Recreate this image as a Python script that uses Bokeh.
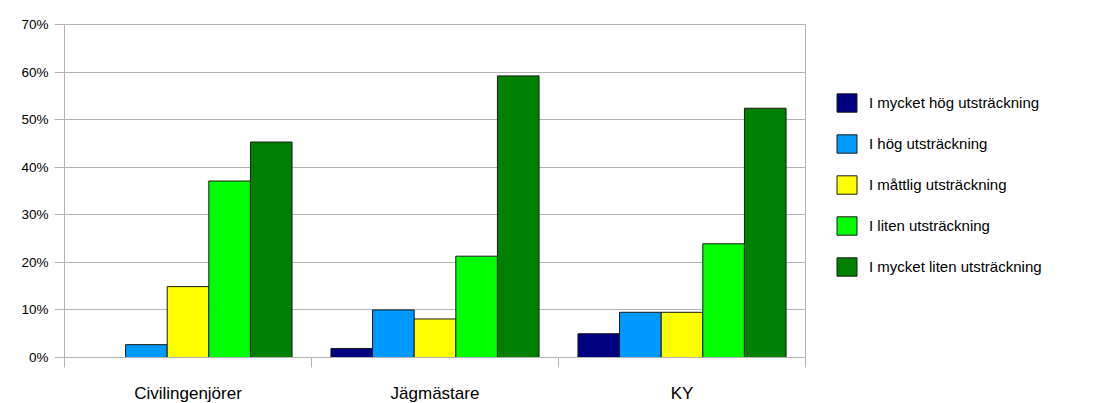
from bokeh.plotting import figure
from bokeh.models import (ColumnDataSource, FixedTicker, NumeralTickFormatter,
                          Range1d, Legend, LegendItem)
from bokeh.embed import file_html
from bokeh.resources import INLINE

categories = ["Civilingenjörer", "Jägmästare", "KY"]
series = ["I mycket hög utsträckning", "I hög utsträckning", "I måttlig utsträckning",
          "I liten utsträckning", "I mycket liten utsträckning"]
colors = ["#000080", "#0099ff", "#ffff00", "#00ff00", "#008000"]
mycket_hog = [0.0, 0.019, 0.050]
hog = [0.027, 0.100, 0.095]
mattlig = [0.149, 0.081, 0.095]
liten = [0.371, 0.213, 0.239]
mycket_liten = [0.453, 0.592, 0.524]
values = [mycket_hog, hog, mattlig, liten, mycket_liten]
y_ticks = [0, 0.1, 0.2, 0.3, 0.4, 0.5, 0.6, 0.7]

FONT = "Liberation Sans"
GRID = "#b3b3b3"
bar_w = 0.1685

p = figure(frame_width=741, frame_height=333, output_backend="svg",
           toolbar_location=None, x_range=Range1d(0, len(categories)),
           y_range=Range1d(0, 0.7), min_border_left=64, min_border_top=24,
           min_border_right=0, min_border_bottom=0)
p.background_fill_color = "white"
p.border_fill_color = "white"
p.outline_line_color = GRID

renderers = []
for j, (name, vals, col) in enumerate(zip(series, values, colors)):
    xs = [i + 0.5 + (j - 2) * bar_w for i in range(len(categories))]
    src = ColumnDataSource(dict(x=xs, top=vals))
    r = p.vbar(x="x", top="top", bottom=0, width=bar_w, source=src,
               fill_color=col, line_color="#1a1a1a", line_width=1)
    renderers.append((name, r))

# y axis
p.yaxis.ticker = FixedTicker(ticks=y_ticks)
p.yaxis.formatter = NumeralTickFormatter(format="0%")
p.yaxis.axis_line_color = GRID
p.yaxis.major_tick_line_color = GRID
p.yaxis.major_tick_in = 0
p.yaxis.major_tick_out = 10
p.yaxis.minor_tick_line_color = None
p.yaxis.major_label_standoff = 6
p.yaxis.major_label_text_font = FONT
p.yaxis.major_label_text_font_size = "13.5px"
p.yaxis.major_label_text_color = "#000000"

# x axis: labels at category centres, ticks at category boundaries
p.xaxis.ticker = FixedTicker(ticks=[i + 0.5 for i in range(len(categories))],
                             minor_ticks=list(range(len(categories) + 1)))
p.xaxis.major_label_overrides = {i + 0.5: c for i, c in enumerate(categories)}
p.xaxis.axis_line_color = GRID
p.xaxis.major_tick_line_color = None
p.xaxis.major_tick_in = 0
p.xaxis.major_tick_out = 0
p.xaxis.minor_tick_line_color = GRID
p.xaxis.minor_tick_in = 0
p.xaxis.minor_tick_out = 10
p.xaxis.major_label_standoff = 16
p.xaxis.major_label_text_font = FONT
p.xaxis.major_label_text_font_size = "17px"
p.xaxis.major_label_text_color = "#000000"

p.xgrid.grid_line_color = None
p.ygrid.grid_line_color = GRID
p.ygrid.ticker = FixedTicker(ticks=y_ticks)

legend = Legend(items=[LegendItem(label=n, renderers=[r]) for n, r in renderers],
                location=(29, 79), margin=0, padding=10, spacing=18,
                glyph_width=25, glyph_height=23, label_standoff=10,
                label_text_font=FONT, label_text_font_size="15px",
                label_text_color="#000000", border_line_color=None,
                background_fill_alpha=0)
p.add_layout(legend, "right")

open("out.html", "w").write(file_html(p, INLINE))
